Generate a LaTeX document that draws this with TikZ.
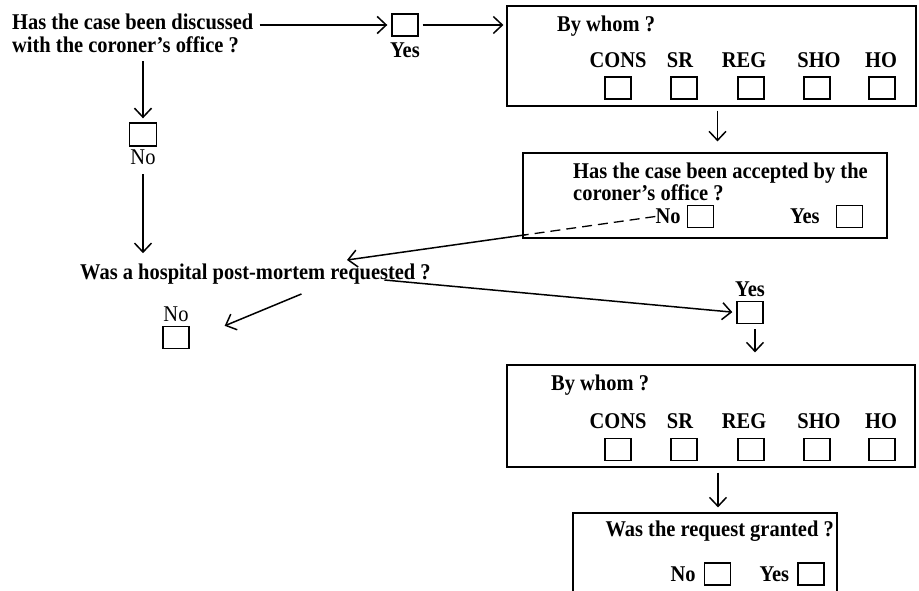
\documentclass[tikz,border=0pt]{standalone}
\usepackage{fontspec}
\setmainfont{Liberation Serif}[FakeStretch=0.91]
\usetikzlibrary{arrows.meta,positioning}
\newcommand{\formsize}{\fontsize{22.5pt}{20pt}\selectfont}
\tikzset{%
  question/.style = {font=\formsize\bfseries, inner sep=0pt, align=left},%
  answer/.style   = {font=\formsize, inner sep=0pt},%
  tickbox/.style  = {shape=rectangle, draw, line width=1.4pt,%
                     minimum width=26pt, minimum height=22pt, inner sep=0pt},%
  panel/.style    = {shape=rectangle, draw, line width=1.2pt, inner sep=0pt},%
  flow/.style     = {line width=1.5pt, -{Straight Barb[length=9pt,width=17pt]}}%
}

\begin{document}
\begin{tikzpicture}[x=1pt, y=-1pt]
	\useasboundingbox (0,0) rectangle (919,591);
	% first question and its answers
	\node[question, anchor=north west, font=\fontsize{22.5pt}{23pt}\selectfont\bfseries] (disc) at (12,14) {Has the case been discussed\\with the coroner's office ?};
	\node[tickbox] (dyes) at (405,25) {};
	\node[question, below=6pt of dyes] (dyeslbl) {Yes};
	\node[tickbox, minimum width=27pt, minimum height=23pt] (dno) at (143,134.5) {};
	\node[answer, below=3pt of dno] (dnolbl) {No};
	\draw[flow, shorten >=4pt] ([xshift=6pt]disc.east |- dyes) -- (dyes.west);
	\draw[flow, shorten <=8pt, shorten >=4pt] (dno.north |- disc.south) -- (dno.north);
	% by whom (coroner)
	\node[panel, minimum width=409pt, minimum height=100pt] (who1) at (711.5,56) {};
	\draw[flow, shorten <=4pt, shorten >=3pt] (dyes.east) -- (dyes.east -| who1.west);
	\node[question, anchor=base west] (who1q) at (557,32) {By whom ?};
	\foreach \role/\lx/\bx [count=\i] in {CONS/618/618, SR/680/684, REG/744/751, SHO/819/817, HO/881/882} {
		\node[question] (r1lbl\i) at (\lx,60) {\role};
		\node[tickbox] (r1box\i) at (\bx,88) {};
	}
	% accepted by the coroner
	\node[panel, minimum width=364pt, minimum height=85pt] (acc) at (705,195.5) {};
	\draw[flow, shorten <=4pt, shorten >=11pt] ([xshift=6pt]who1.south) -- ([xshift=6pt]who1.south |- acc.north);
	\node[question, anchor=north west] (accq) at (573,163) {Has the case been accepted by the\\coroner's office ?};
	\node[tickbox] (accnobox) at (700.5,216.5) {};
	\node[question, left=6pt of accnobox] (accno) {No};
	\node[tickbox] (accyesbox) at (849.5,216.5) {};
	\node[question, left=16pt of accyesbox] (accyes) {Yes};
	% hospital post-mortem
	\node[question, anchor=base west] (pm) at (80,279) {Was a hospital post-mortem requested ?};
	\coordinate (pmtip) at (347,260);
	\path (accno.west) -- (pmtip) coordinate[pos=0.42] (cut);
	\draw[line width=1.3pt, dash pattern=on 10pt off 6pt] (accno.west) -- (cut);
	\draw[flow] (cut) -- (pmtip);
	\draw[flow, shorten <=9pt, shorten >=10pt] (dno.south |- dnolbl.south) -- (dno.south |- pm.north);
	\node[tickbox] (pmnobox) at (176,337.5) {};
	\node[answer, above=4pt of pmnobox] (pmno) {No};
	\draw[flow] ([shift={(46,10)}]pm.south) -- ([shift={(35,0)}]pmnobox.north east);
	\node[tickbox] (yes2) at (750,312.5) {};
	\node[question, above=4pt of yes2] (yes2lbl) {Yes};
	\draw[flow, shorten >=4pt] ([shift={(129,1)}]pm.base) -- (yes2.west);
	% by whom (post-mortem)
	\node[panel, minimum width=408pt, minimum height=102pt] (who2) at (711,416) {};
	\draw[flow, shorten <=5pt, shorten >=12pt] ([xshift=5pt]yes2.south) -- ([xshift=5pt]yes2.south |- who2.north);
	\node[question, anchor=base west] (who2q) at (551,390) {By whom ?};
	\foreach \role/\lx/\bx [count=\i] in {CONS/618/618, SR/680/684, REG/744/751, SHO/819/817, HO/881/882} {
		\node[question] (r2lbl\i) at (\lx,421) {\role};
		\node[tickbox] (r2box\i) at (\bx,449.5) {};
	}
	% request granted, cut off at the foot
	\node[panel, minimum width=264pt, minimum height=92pt] (grant) at (705,559) {};
	\draw[flow, shorten <=5pt, shorten >=5pt] ([xshift=7pt]who2.south) -- ([xshift=7pt]who2.south |- grant.north);
	\node[question, anchor=base east] (grantq) at (834,536) {Was the request granted ?};
	\node[tickbox] (grnobox) at (717.5,574) {};
	\node[question, left=8pt of grnobox] (grno) {No};
	\node[tickbox] (gryesbox) at (811,574) {};
	\node[question, left=8pt of gryesbox] (gryes) {Yes};
\end{tikzpicture}
\end{document}
